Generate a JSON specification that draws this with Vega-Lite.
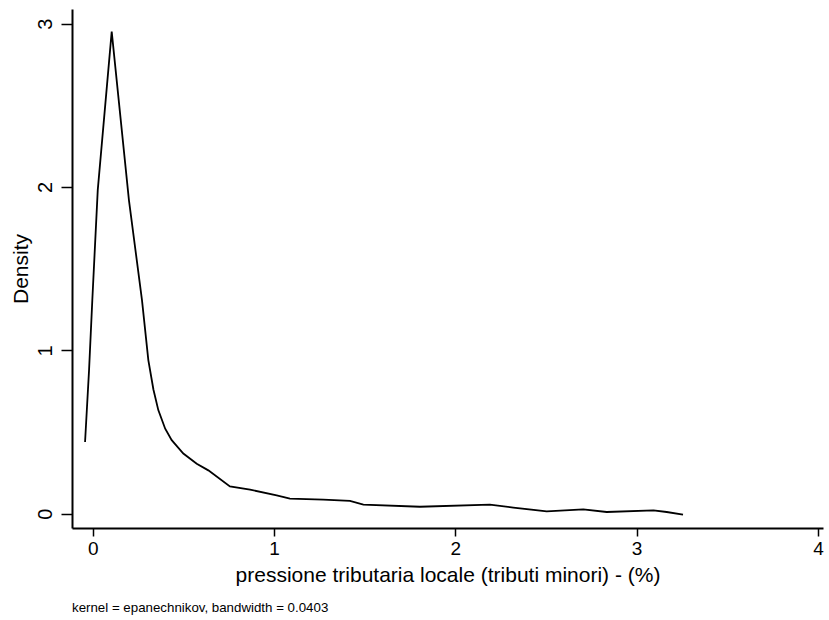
{
  "$schema": "https://vega.github.io/schema/vega-lite/v6.json",
  "width": 751,
  "height": 519,
  "autosize": {"type": "none"},
  "padding": {"left": 72, "top": 9, "right": 6, "bottom": 92},
  "background": "white",
  "config": {
    "view": {"stroke": null},
    "font": "Liberation Sans",
    "axis": {"grid": false, "domainColor": "black", "domainWidth": 2, "tickColor": "black", "tickWidth": 1.5, "labelColor": "black", "titleColor": "black", "labelFont": "Liberation Sans", "titleFont": "Liberation Sans", "titleFontWeight": "normal"}
  },
  "title": {
    "text": "kernel = epanechnikov, bandwidth = 0.0403",
    "orient": "bottom",
    "anchor": "start",
    "frame": "group",
    "fontSize": 13.3,
    "fontWeight": "normal",
    "font": "Liberation Sans",
    "color": "black",
    "offset": 16
  },
  "data": {
    "values": [
      {"x": -0.042, "d": 0.439},
      {"x": -0.020, "d": 0.878},
      {"x": -0.002, "d": 1.307},
      {"x": 0.028, "d": 1.981},
      {"x": 0.105, "d": 2.951},
      {"x": 0.200, "d": 1.920},
      {"x": 0.272, "d": 1.307},
      {"x": 0.307, "d": 0.940},
      {"x": 0.335, "d": 0.760},
      {"x": 0.362, "d": 0.634},
      {"x": 0.400, "d": 0.520},
      {"x": 0.436, "d": 0.450},
      {"x": 0.500, "d": 0.368},
      {"x": 0.574, "d": 0.306},
      {"x": 0.638, "d": 0.265},
      {"x": 0.757, "d": 0.167},
      {"x": 0.868, "d": 0.147},
      {"x": 1.015, "d": 0.112},
      {"x": 1.088, "d": 0.092},
      {"x": 1.272, "d": 0.086},
      {"x": 1.419, "d": 0.078},
      {"x": 1.493, "d": 0.055},
      {"x": 1.805, "d": 0.042},
      {"x": 2.191, "d": 0.055},
      {"x": 2.320, "d": 0.037},
      {"x": 2.504, "d": 0.014},
      {"x": 2.706, "d": 0.026},
      {"x": 2.835, "d": 0.010},
      {"x": 3.093, "d": 0.020},
      {"x": 3.166, "d": 0.010},
      {"x": 3.256, "d": -0.006}
    ]
  },
  "mark": {"type": "line", "color": "black", "strokeWidth": 1.8},
  "encoding": {
    "x": {
      "field": "x",
      "type": "quantitative",
      "scale": {"domain": [-0.114, 4.028], "nice": false, "zero": false},
      "axis": {"values": [0, 1, 2, 3, 4], "format": "d", "tickSize": 8, "labelFontSize": 19, "labelPadding": 3, "title": "pressione tributaria locale (tributi minori) - (%)", "titleFontSize": 21, "titlePadding": 6, "labelFlush": false}
    },
    "y": {
      "field": "d",
      "type": "quantitative",
      "scale": {"domain": [-0.088, 3.09], "nice": false, "zero": false},
      "axis": {"values": [0, 1, 2, 3], "format": "d", "tickSize": 11, "labelAngle": -90, "labelFontSize": 20, "labelPadding": 6, "title": "Density", "titleFontSize": 21, "titlePadding": 4, "labelFlush": false}
    }
  }
}
